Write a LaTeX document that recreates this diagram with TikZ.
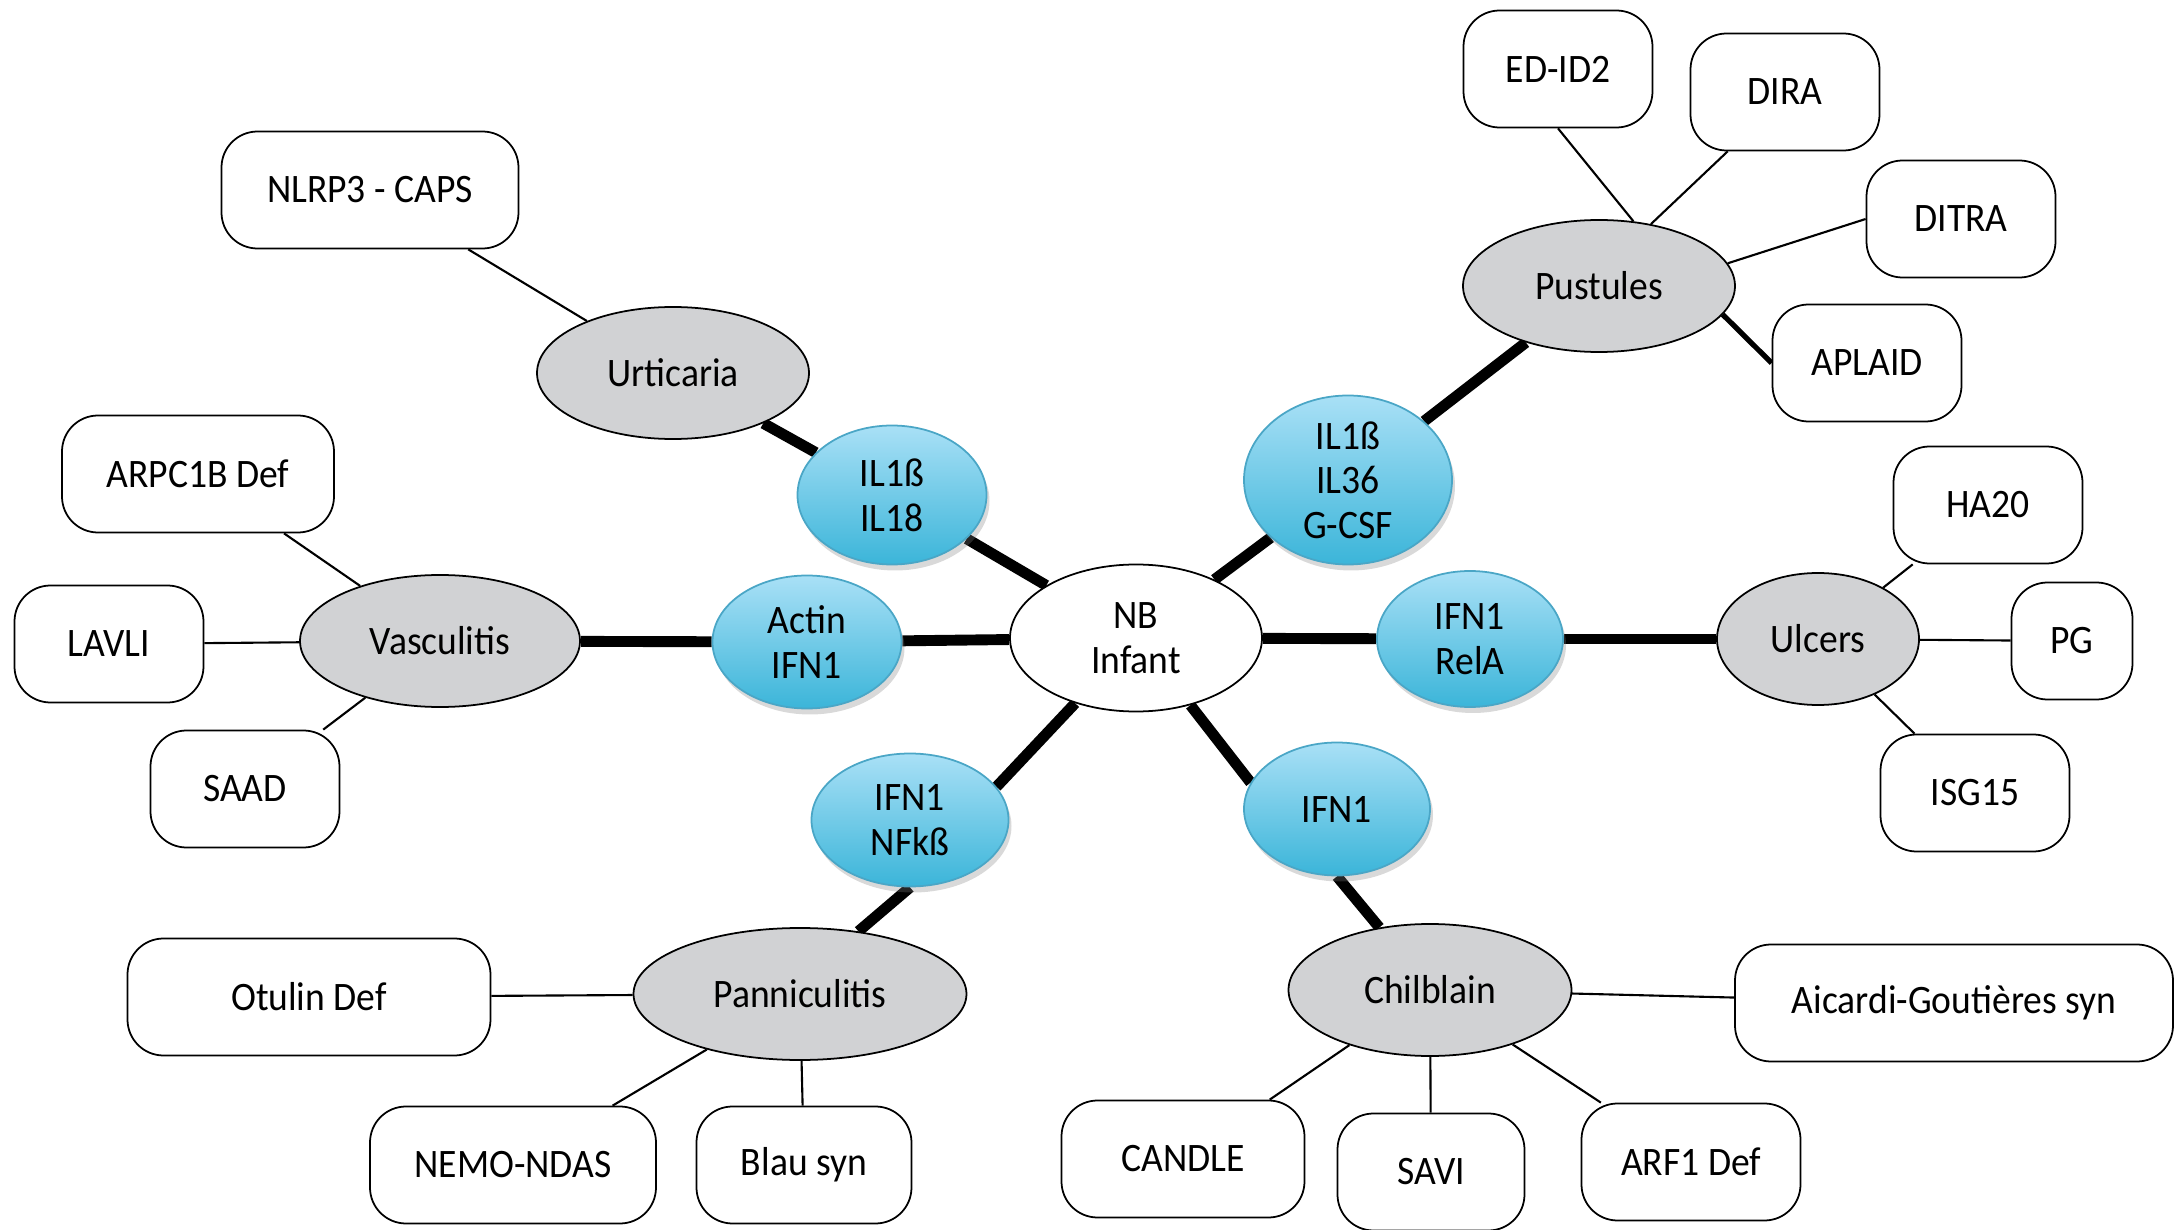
\documentclass[tikz,border=0pt]{standalone}
\usepackage{fontspec}
\setmainfont{Carlito}[FakeStretch=0.93]
\usetikzlibrary{shapes.geometric,shadows,backgrounds}
\definecolor{greyfill}{HTML}{D1D2D4}
\definecolor{bluetop}{HTML}{A9E0F6}
\definecolor{bluebot}{HTML}{3BB5D9}
\definecolor{blueline}{HTML}{4AA6C6}
\tikzset{
	hub/.style={ellipse, draw, line width=0.5pt, fill=white, inner sep=0pt, minimum width=2.52cm, minimum height=1.47cm, align=center},
	cyto/.style={ellipse, draw=blueline, line width=0.5pt, top color=bluetop, bottom color=bluebot, inner sep=0pt, align=center,
		drop shadow={shadow xshift=0.03cm, shadow yshift=-0.06cm, opacity=0.3}},
	dis/.style={ellipse, draw, line width=0.5pt, fill=greyfill, inner sep=0pt, minimum height=1.32cm},
	sym/.style={rectangle, rounded corners=0.36cm, draw, line width=0.5pt, fill=white, inner sep=0pt, minimum height=1.17cm},
	thick link/.style={line width=3.1pt},
	thin link/.style={line width=0.6pt}
}
\begin{document}
\begin{tikzpicture}[x=1cm,y=1cm, font=\fontsize{11.5}{12.7}\selectfont, line join=round]
	\useasboundingbox (0,0) rectangle (21.75,-12.3);
	% centre
	\node[hub] (nb) at (11.36,-6.38) {NB\\Infant};
	% cytokines
	\node[cyto, minimum width=1.89cm, minimum height=1.39cm] (il18) at (8.92,-4.95) {IL1ß\\IL18};
	\node[cyto, minimum width=1.89cm, minimum height=1.33cm] (actin) at (8.07,-6.42) {Actin\\IFN1};
	\node[cyto, minimum width=2.08cm, minimum height=1.69cm] (il36) at (13.48,-4.80) {IL1ß\\IL36\\G-CSF};
	\node[cyto, minimum width=1.86cm, minimum height=1.36cm] (rela) at (14.70,-6.39) {IFN1\\RelA};
	\node[cyto, minimum width=1.97cm, minimum height=1.33cm] (nfkb) at (9.10,-8.20) {IFN1\\NFkß};
	\node[cyto, minimum width=1.86cm, minimum height=1.33cm] (ifn) at (13.37,-8.09) {IFN1};
	% clinical signs
	\node[dis, minimum width=2.72cm] (urti) at (6.73,-3.73) {Urticaria};
	\node[dis, minimum width=2.80cm] (vasc) at (4.40,-6.41) {Vasculitis};
	\node[dis, minimum width=2.72cm] (pust) at (15.99,-2.86) {Pustules};
	\node[dis, minimum width=2.02cm] (ulc) at (18.18,-6.39) {Ulcers};
	\node[dis, minimum width=3.33cm] (pann) at (8.00,-9.94) {Panniculitis};
	\node[dis, minimum width=2.83cm] (chil) at (14.30,-9.90) {Chilblain};
	% syndromes
	\foreach \n/\x/\y/\w/\t in {
		caps/3.70/-1.90/2.97/NLRP3 - CAPS,
		edid/15.58/-0.69/1.89/ED-ID2,
		dira/17.85/-0.92/1.89/DIRA,
		ditra/19.61/-2.19/1.89/DITRA,
		aplaid/18.67/-3.63/1.89/APLAID,
		arpc/1.98/-4.74/2.72/ARPC1B Def,
		lavli/1.09/-6.44/1.89/LAVLI,
		saad/2.45/-7.89/1.89/SAAD,
		ha/19.88/-5.05/1.89/HA20,
		pg/20.72/-6.41/1.21/PG,
		isg/19.75/-7.93/1.89/ISG15,
		otulin/3.09/-9.97/3.63/Otulin Def,
		nemo/5.13/-11.65/2.86/NEMO-NDAS,
		blau/8.04/-11.65/2.15/Blau syn,
		candle/11.83/-11.59/2.43/CANDLE,
		savi/14.31/-11.72/1.87/SAVI,
		arf/16.91/-11.62/2.19/ARF1 Def,
		ags/19.54/-10.03/4.38/Aicardi-Goutières syn}
		\node[sym, minimum width=\w cm] (\n) at (\x,\y) {\t};
	\begin{scope}[on background layer]
		\foreach \a/\b in {nb/il18, il18/urti, nb/actin, actin/vasc, nb/il36, il36/pust, nb/rela, rela/ulc}
			\draw[thick link] (\a) -- (\b);
		\draw[thick link] (nb.227) -- (nfkb.21);
		\draw[thick link] (nfkb.south) -- (pann.47);
		\draw[thick link] (nb.-51) -- (ifn.163);
		\draw[thick link] (ifn.south) -- (chil.129);
		\foreach \a/\b in {urti/caps, vasc/arpc, vasc/lavli, vasc/saad,
			ulc/ha, ulc/pg, ulc/isg, pann/otulin, pann/nemo, pann/blau, chil/candle, chil/savi, chil/arf, chil/ags}
			\draw[thin link] (\a) -- (\b);
		\draw[thin link] (edid.south) -- (pust.62);
		\draw[thin link] (dira.226) -- (pust.50);
		\draw[thin link] (pust.10) -- (ditra.west);
		\draw[line width=1.5pt] (pust.-13) -- (aplaid.west);
	\end{scope}
\end{tikzpicture}
\end{document}
